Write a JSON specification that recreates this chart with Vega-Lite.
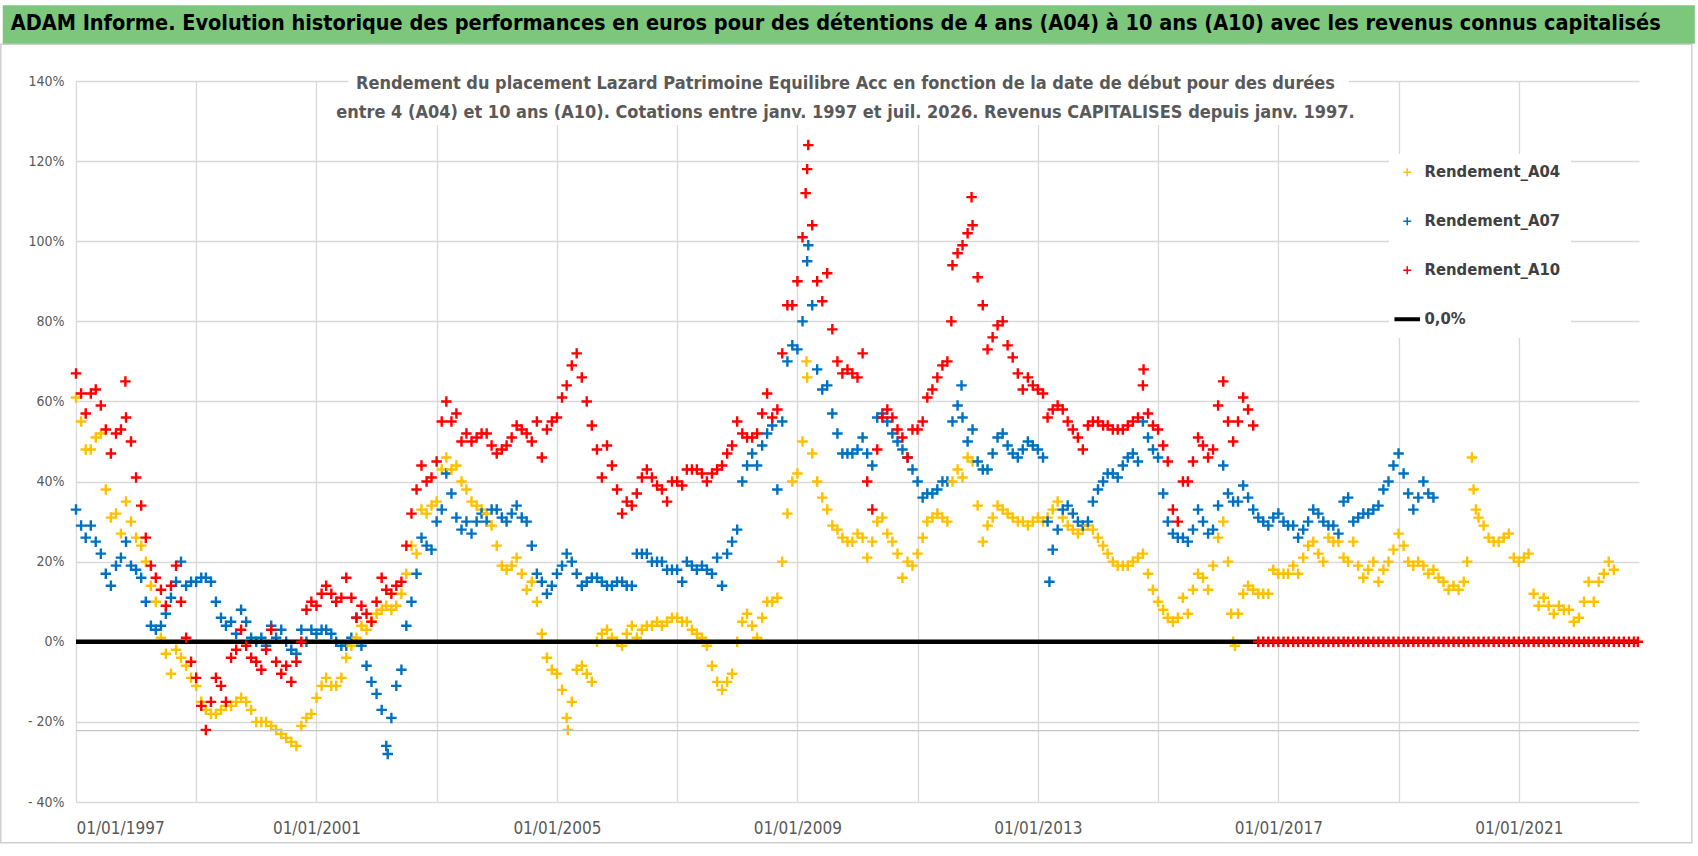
{
  "$schema": "https://vega.github.io/schema/vega-lite/v6.json",
  "background": "white",
  "autosize": {"type": "none"},
  "padding": {"left": 76, "top": 81, "right": 59, "bottom": 54},
  "width": 1563,
  "height": 721,
  "config": {
    "font": "Liberation Sans Narrow, DejaVu Sans Condensed, sans-serif",
    "view": {"stroke": null}
  },
  "title": {
    "text": [
      "Rendement du placement Lazard Patrimoine Equilibre Acc en fonction de la date de début pour des durées",
      "entre 4 (A04) et 10 ans (A10).  Cotations entre janv. 1997 et juil. 2026. Revenus CAPITALISES  depuis janv. 1997."
    ],
    "orient": "top", "anchor": "middle", "frame": "group",
    "offset": -117, "dx": -12,
    "fontSize": 18, "fontWeight": "bold", "color": "#595959", "lineHeight": 29
  },
  "data": {"values": [
    {"d":"1997-01-01","A04":61,"A07":33,"A10":67},
    {"d":"1997-02-01","A04":55,"A07":29,"A10":62},
    {"d":"1997-03-01","A04":48,"A07":26,"A10":57},
    {"d":"1997-04-01","A04":48,"A07":29,"A10":62},
    {"d":"1997-05-01","A04":51,"A07":25,"A10":63},
    {"d":"1997-06-01","A04":52,"A07":22,"A10":59},
    {"d":"1997-07-01","A04":38,"A07":17,"A10":53},
    {"d":"1997-08-01","A04":31,"A07":14,"A10":47},
    {"d":"1997-09-01","A04":32,"A07":19,"A10":52},
    {"d":"1997-10-01","A04":27,"A07":21,"A10":53},
    {"d":"1997-10-28","A10":65},
    {"d":"1997-11-01","A04":35,"A07":25,"A10":56},
    {"d":"1997-12-01","A04":30,"A07":19,"A10":50},
    {"d":"1998-01-01","A04":26,"A07":18,"A10":41},
    {"d":"1998-02-01","A04":24,"A07":16,"A10":34},
    {"d":"1998-03-01","A04":20,"A07":10,"A10":26},
    {"d":"1998-04-01","A04":14,"A07":4,"A10":19},
    {"d":"1998-05-01","A04":10,"A07":3,"A10":16},
    {"d":"1998-06-01","A04":1,"A07":4,"A10":13},
    {"d":"1998-07-01","A04":-3,"A07":7,"A10":9},
    {"d":"1998-08-01","A04":-8,"A07":11,"A10":14},
    {"d":"1998-09-01","A04":-2,"A07":15,"A10":19},
    {"d":"1998-10-01","A04":-4,"A07":20,"A10":10},
    {"d":"1998-11-01","A04":-6,"A07":14,"A10":1},
    {"d":"1998-12-01","A04":-9,"A07":15,"A10":-5},
    {"d":"1999-01-01","A04":-11,"A07":15,"A10":-9},
    {"d":"1999-02-01","A04":-15,"A07":16,"A10":-16},
    {"d":"1999-03-01","A04":-17,"A07":16,"A10":-22},
    {"d":"1999-04-01","A04":-18,"A07":15,"A10":-15},
    {"d":"1999-05-01","A04":-18,"A07":10,"A10":-9},
    {"d":"1999-06-01","A04":-17,"A07":6,"A10":-11},
    {"d":"1999-07-01","A04":-16,"A07":4,"A10":-15},
    {"d":"1999-08-01","A04":-16,"A07":5,"A10":-4},
    {"d":"1999-09-01","A04":-15,"A07":2,"A10":-2},
    {"d":"1999-10-01","A04":-14,"A07":8,"A10":3},
    {"d":"1999-11-01","A04":-15,"A07":5,"A10":-1},
    {"d":"1999-12-01","A04":-17,"A07":1,"A10":-4},
    {"d":"2000-01-01","A04":-20,"A07":0,"A10":-5},
    {"d":"2000-02-01","A04":-20,"A07":1,"A10":-7},
    {"d":"2000-03-01","A04":-20,"A07":-1,"A10":-2},
    {"d":"2000-04-01","A04":-21,"A07":4,"A10":3},
    {"d":"2000-05-01","A04":-22,"A07":1,"A10":-5},
    {"d":"2000-06-01","A04":-23,"A07":3,"A10":-8},
    {"d":"2000-07-01","A04":-24,"A07":0,"A10":-6},
    {"d":"2000-08-01","A04":-25,"A07":-2,"A10":-10},
    {"d":"2000-09-01","A04":-26,"A07":-3,"A10":-5},
    {"d":"2000-10-01","A04":-21,"A07":3,"A10":0},
    {"d":"2000-11-01","A04":-19,"A07":0,"A10":8},
    {"d":"2000-12-01","A04":-18,"A07":3,"A10":10},
    {"d":"2001-01-01","A04":-14,"A07":2,"A10":9},
    {"d":"2001-02-01","A04":-11,"A07":3,"A10":12},
    {"d":"2001-03-01","A04":-9,"A07":3,"A10":14},
    {"d":"2001-04-01","A04":-11,"A07":2,"A10":12},
    {"d":"2001-05-01","A04":-11,"A07":0,"A10":10},
    {"d":"2001-06-01","A04":-9,"A07":-1,"A10":11},
    {"d":"2001-07-01","A04":-4,"A07":-1,"A10":16},
    {"d":"2001-08-01","A04":-1,"A07":1,"A10":11},
    {"d":"2001-09-01","A04":1,"A07":6,"A10":6},
    {"d":"2001-10-01","A04":4,"A07":-1,"A10":9},
    {"d":"2001-11-01","A04":3,"A07":-6,"A10":7},
    {"d":"2001-12-01","A04":5,"A07":-10,"A10":5},
    {"d":"2002-01-01","A04":7,"A07":-13,"A10":10},
    {"d":"2002-02-01","A04":8,"A07":-17,"A10":16},
    {"d":"2002-03-01","A04":9,"A07":-26,"A10":13},
    {"d":"2002-03-10","A07":-28},
    {"d":"2002-04-01","A04":8,"A07":-19,"A10":12},
    {"d":"2002-05-01","A04":9,"A07":-11,"A10":14},
    {"d":"2002-06-01","A04":12,"A07":-7,"A10":15},
    {"d":"2002-07-01","A04":17,"A07":4,"A10":24},
    {"d":"2002-08-01","A04":24,"A07":10,"A10":32},
    {"d":"2002-09-01","A04":22,"A07":17,"A10":38},
    {"d":"2002-10-01","A04":33,"A07":26,"A10":44},
    {"d":"2002-11-01","A04":32,"A07":24,"A10":40},
    {"d":"2002-12-01","A04":34,"A07":23,"A10":41},
    {"d":"2003-01-01","A04":35,"A07":30,"A10":45},
    {"d":"2003-02-01","A04":43,"A07":33,"A10":55},
    {"d":"2003-03-01","A04":46,"A07":42,"A10":60},
    {"d":"2003-04-01","A04":43,"A07":37,"A10":55},
    {"d":"2003-05-01","A04":44,"A07":31,"A10":57},
    {"d":"2003-06-01","A04":40,"A07":28,"A10":50},
    {"d":"2003-07-01","A04":38,"A07":30,"A10":52},
    {"d":"2003-08-01","A04":35,"A07":27,"A10":50},
    {"d":"2003-09-01","A04":34,"A07":30,"A10":51},
    {"d":"2003-10-01","A04":33,"A07":32,"A10":52},
    {"d":"2003-11-01","A04":32,"A07":30,"A10":52},
    {"d":"2003-12-01","A04":29,"A07":33,"A10":49},
    {"d":"2004-01-01","A04":24,"A07":33,"A10":47},
    {"d":"2004-02-01","A04":19,"A07":31,"A10":48},
    {"d":"2004-03-01","A04":18,"A07":30,"A10":49},
    {"d":"2004-04-01","A04":19,"A07":32,"A10":51},
    {"d":"2004-05-01","A04":21,"A07":34,"A10":54},
    {"d":"2004-06-01","A04":17,"A07":31,"A10":53},
    {"d":"2004-07-01","A04":13,"A07":30,"A10":52},
    {"d":"2004-08-01","A04":15,"A07":24,"A10":50},
    {"d":"2004-09-01","A04":10,"A07":17,"A10":55},
    {"d":"2004-10-01","A04":2,"A07":15,"A10":46},
    {"d":"2004-11-01","A04":-4,"A07":12,"A10":53},
    {"d":"2004-12-01","A04":-7,"A07":14,"A10":55},
    {"d":"2005-01-01","A04":-8,"A07":17,"A10":56},
    {"d":"2005-02-01","A04":-12,"A07":19,"A10":61},
    {"d":"2005-03-01","A04":-19,"A07":22,"A10":64},
    {"d":"2005-03-08","A04":-22},
    {"d":"2005-04-01","A04":-15,"A07":20,"A10":69},
    {"d":"2005-05-01","A04":-7,"A07":17,"A10":72},
    {"d":"2005-06-01","A04":-6,"A07":14,"A10":66},
    {"d":"2005-07-01","A04":-8,"A07":15,"A10":60},
    {"d":"2005-08-01","A04":-10,"A07":16,"A10":54},
    {"d":"2005-09-01","A04":0,"A07":16,"A10":48},
    {"d":"2005-10-01","A04":2,"A07":15,"A10":41},
    {"d":"2005-11-01","A04":3,"A07":14,"A10":49},
    {"d":"2005-12-01","A04":1,"A07":14,"A10":44},
    {"d":"2006-01-01","A04":0,"A07":15,"A10":38},
    {"d":"2006-02-01","A04":-1,"A07":15,"A10":32},
    {"d":"2006-03-01","A04":2,"A07":14,"A10":35},
    {"d":"2006-04-01","A04":4,"A07":14,"A10":34},
    {"d":"2006-05-01","A04":1,"A07":22,"A10":37},
    {"d":"2006-06-01","A04":3,"A07":22,"A10":41},
    {"d":"2006-07-01","A04":4,"A07":22,"A10":43},
    {"d":"2006-08-01","A04":4,"A07":20,"A10":41},
    {"d":"2006-09-01","A04":5,"A07":20,"A10":39},
    {"d":"2006-10-01","A04":4,"A07":20,"A10":38},
    {"d":"2006-11-01","A04":5,"A07":18,"A10":35},
    {"d":"2006-12-01","A04":6,"A07":18,"A10":40},
    {"d":"2007-01-01","A04":6,"A07":18,"A10":40},
    {"d":"2007-02-01","A04":5,"A07":15,"A10":39},
    {"d":"2007-03-01","A04":5,"A07":20,"A10":43},
    {"d":"2007-04-01","A04":3,"A07":19,"A10":43},
    {"d":"2007-05-01","A04":2,"A07":18,"A10":43},
    {"d":"2007-06-01","A04":1,"A07":19,"A10":42},
    {"d":"2007-07-01","A04":-1,"A07":18,"A10":40},
    {"d":"2007-08-01","A04":-6,"A07":17,"A10":42},
    {"d":"2007-09-01","A04":-10,"A07":21,"A10":43},
    {"d":"2007-10-01","A04":-12,"A07":14,"A10":44},
    {"d":"2007-11-01","A04":-10,"A07":22,"A10":47},
    {"d":"2007-12-01","A04":-8,"A07":25,"A10":49},
    {"d":"2008-01-01","A04":0,"A07":28,"A10":55},
    {"d":"2008-02-01","A04":5,"A07":40,"A10":52},
    {"d":"2008-03-01","A04":7,"A07":44,"A10":51},
    {"d":"2008-04-01","A04":4,"A07":47,"A10":51},
    {"d":"2008-05-01","A04":1,"A07":44,"A10":52},
    {"d":"2008-06-01","A04":6,"A07":49,"A10":57},
    {"d":"2008-07-01","A04":10,"A07":52,"A10":62},
    {"d":"2008-08-01","A04":10,"A07":54,"A10":56},
    {"d":"2008-09-01","A04":11,"A07":38,"A10":58},
    {"d":"2008-10-01","A04":20,"A07":55,"A10":72},
    {"d":"2008-11-01","A04":32,"A07":70,"A10":84},
    {"d":"2008-12-01","A04":40,"A07":74,"A10":84},
    {"d":"2009-01-01","A04":42,"A07":73,"A10":90},
    {"d":"2009-02-01","A04":50,"A07":80,"A10":101},
    {"d":"2009-02-20","A10":112},
    {"d":"2009-02-25","A04":70},
    {"d":"2009-03-01","A04":66,"A07":95,"A10":118},
    {"d":"2009-03-08","A07":99,"A10":124},
    {"d":"2009-04-01","A04":47,"A07":84,"A10":104},
    {"d":"2009-05-01","A04":40,"A07":68,"A10":90},
    {"d":"2009-06-01","A04":36,"A07":63,"A10":85},
    {"d":"2009-07-01","A04":33,"A07":64,"A10":92},
    {"d":"2009-08-01","A04":29,"A07":57,"A10":78},
    {"d":"2009-09-01","A04":28,"A07":52,"A10":70},
    {"d":"2009-10-01","A04":26,"A07":47,"A10":67},
    {"d":"2009-11-01","A04":25,"A07":47,"A10":68},
    {"d":"2009-12-01","A04":25,"A07":47,"A10":67},
    {"d":"2010-01-01","A04":27,"A07":48,"A10":66},
    {"d":"2010-02-01","A04":26,"A07":51,"A10":72},
    {"d":"2010-03-01","A04":21,"A07":47,"A10":40},
    {"d":"2010-04-01","A04":25,"A07":44,"A10":33},
    {"d":"2010-05-01","A04":30,"A07":56,"A10":48},
    {"d":"2010-06-01","A04":31,"A07":57,"A10":56},
    {"d":"2010-07-01","A04":27,"A07":55,"A10":58},
    {"d":"2010-08-01","A04":25,"A07":52,"A10":56},
    {"d":"2010-09-01","A04":22,"A07":50,"A10":53},
    {"d":"2010-10-01","A04":16,"A07":48,"A10":51},
    {"d":"2010-11-01","A04":20,"A07":46,"A10":46},
    {"d":"2010-12-01","A04":19,"A07":43,"A10":53},
    {"d":"2011-01-01","A04":22,"A07":40,"A10":53},
    {"d":"2011-02-01","A04":26,"A07":36,"A10":55},
    {"d":"2011-03-01","A04":30,"A07":37,"A10":61},
    {"d":"2011-04-01","A04":31,"A07":37,"A10":63},
    {"d":"2011-05-01","A04":32,"A07":38,"A10":66},
    {"d":"2011-06-01","A04":31,"A07":40,"A10":69},
    {"d":"2011-07-01","A04":30,"A07":40,"A10":70},
    {"d":"2011-07-25","A10":80},
    {"d":"2011-08-01","A04":40,"A07":55,"A10":94},
    {"d":"2011-09-01","A04":43,"A07":59,"A10":97},
    {"d":"2011-09-25","A07":64},
    {"d":"2011-10-01","A04":41,"A07":56,"A10":99},
    {"d":"2011-11-01","A04":46,"A07":50,"A10":102},
    {"d":"2011-11-25","A10":111},
    {"d":"2011-12-01","A04":45,"A07":53,"A10":104},
    {"d":"2012-01-01","A04":34,"A07":45,"A10":91},
    {"d":"2012-02-01","A04":25,"A07":43,"A10":84},
    {"d":"2012-03-01","A04":29,"A07":43,"A10":73},
    {"d":"2012-04-01","A04":31,"A07":47,"A10":76},
    {"d":"2012-05-01","A04":34,"A07":51,"A10":79},
    {"d":"2012-06-01","A04":33,"A07":52,"A10":80},
    {"d":"2012-07-01","A04":32,"A07":49,"A10":74},
    {"d":"2012-08-01","A04":31,"A07":47,"A10":71},
    {"d":"2012-09-01","A04":30,"A07":46,"A10":67},
    {"d":"2012-10-01","A04":30,"A07":48,"A10":63},
    {"d":"2012-11-01","A04":29,"A07":50,"A10":66},
    {"d":"2012-12-01","A04":30,"A07":49,"A10":64},
    {"d":"2013-01-01","A04":31,"A07":48,"A10":63},
    {"d":"2013-02-01","A04":30,"A07":46,"A10":62},
    {"d":"2013-03-01","A04":31,"A07":30,"A10":56},
    {"d":"2013-03-12","A07":15},
    {"d":"2013-04-01","A04":33,"A07":23,"A10":58},
    {"d":"2013-05-01","A04":35,"A07":28,"A10":59},
    {"d":"2013-06-01","A04":31,"A07":33,"A10":58},
    {"d":"2013-07-01","A04":29,"A07":34,"A10":55},
    {"d":"2013-08-01","A04":28,"A07":32,"A10":53},
    {"d":"2013-09-01","A04":27,"A07":30,"A10":51},
    {"d":"2013-10-01","A04":28,"A07":29,"A10":48},
    {"d":"2013-11-01","A04":29,"A07":30,"A10":54},
    {"d":"2013-12-01","A04":28,"A07":35,"A10":55},
    {"d":"2014-01-01","A04":26,"A07":38,"A10":55},
    {"d":"2014-02-01","A04":24,"A07":40,"A10":54},
    {"d":"2014-03-01","A04":22,"A07":42,"A10":54},
    {"d":"2014-04-01","A04":20,"A07":42,"A10":53},
    {"d":"2014-05-01","A04":19,"A07":41,"A10":53},
    {"d":"2014-06-01","A04":19,"A07":44,"A10":53},
    {"d":"2014-07-01","A04":19,"A07":46,"A10":54},
    {"d":"2014-08-01","A04":20,"A07":47,"A10":55},
    {"d":"2014-09-01","A04":21,"A07":45,"A10":56},
    {"d":"2014-10-01","A04":22,"A07":55,"A10":64},
    {"d":"2014-10-05","A10":68},
    {"d":"2014-11-01","A04":17,"A07":51,"A10":57},
    {"d":"2014-12-01","A04":13,"A07":48,"A10":54},
    {"d":"2015-01-01","A04":10,"A07":46,"A10":53},
    {"d":"2015-02-01","A04":8,"A07":37,"A10":49},
    {"d":"2015-03-01","A04":6,"A07":30,"A10":45},
    {"d":"2015-04-01","A04":5,"A07":27,"A10":33},
    {"d":"2015-05-01","A04":6,"A07":26,"A10":30},
    {"d":"2015-06-01","A04":11,"A07":26,"A10":40},
    {"d":"2015-07-01","A04":7,"A07":25,"A10":40},
    {"d":"2015-08-01","A04":13,"A07":28,"A10":45},
    {"d":"2015-09-01","A04":17,"A07":33,"A10":51},
    {"d":"2015-10-01","A04":16,"A07":30,"A10":49},
    {"d":"2015-11-01","A04":13,"A07":27,"A10":46},
    {"d":"2015-12-01","A04":19,"A07":28,"A10":48},
    {"d":"2016-01-01","A04":26,"A07":34,"A10":59},
    {"d":"2016-02-01","A04":30,"A07":44,"A10":65},
    {"d":"2016-03-01","A04":20,"A07":37,"A10":55},
    {"d":"2016-03-20","A04":7},
    {"d":"2016-04-01","A04":0,"A07":35,"A10":50},
    {"d":"2016-04-12","A04":-1},
    {"d":"2016-05-01","A04":7,"A07":35,"A10":55},
    {"d":"2016-06-01","A04":12,"A07":39,"A10":61},
    {"d":"2016-07-01","A04":14,"A07":36,"A10":58},
    {"d":"2016-08-01","A04":13,"A07":33,"A10":54},
    {"d":"2016-09-01","A04":12,"A07":31,"A10":0},
    {"d":"2016-10-01","A04":12,"A07":30,"A10":0},
    {"d":"2016-11-01","A04":12,"A07":29,"A10":0},
    {"d":"2016-12-01","A04":18,"A07":31,"A10":0},
    {"d":"2017-01-01","A04":17,"A07":32,"A10":0},
    {"d":"2017-02-01","A04":17,"A07":30,"A10":0},
    {"d":"2017-03-01","A04":17,"A07":29,"A10":0},
    {"d":"2017-04-01","A04":19,"A07":29,"A10":0},
    {"d":"2017-05-01","A04":17,"A07":26,"A10":0},
    {"d":"2017-06-01","A04":21,"A07":28,"A10":0},
    {"d":"2017-07-01","A04":24,"A07":30,"A10":0},
    {"d":"2017-08-01","A04":25,"A07":33,"A10":0},
    {"d":"2017-09-01","A04":22,"A07":32,"A10":0},
    {"d":"2017-10-01","A04":20,"A07":30,"A10":0},
    {"d":"2017-11-01","A04":26,"A07":29,"A10":0},
    {"d":"2017-12-01","A04":25,"A07":29,"A10":0},
    {"d":"2018-01-01","A04":25,"A07":27,"A10":0},
    {"d":"2018-02-01","A04":21,"A07":35,"A10":0},
    {"d":"2018-03-01","A04":20,"A07":36,"A10":0},
    {"d":"2018-04-01","A04":25,"A07":30,"A10":0},
    {"d":"2018-05-01","A04":19,"A07":31,"A10":0},
    {"d":"2018-06-01","A04":16,"A07":32,"A10":0},
    {"d":"2018-07-01","A04":18,"A07":32,"A10":0},
    {"d":"2018-08-01","A04":20,"A07":33,"A10":0},
    {"d":"2018-09-01","A04":15,"A07":34,"A10":0},
    {"d":"2018-10-01","A04":18,"A07":38,"A10":0},
    {"d":"2018-11-01","A04":20,"A07":40,"A10":0},
    {"d":"2018-12-01","A04":23,"A07":44,"A10":0},
    {"d":"2019-01-01","A04":27,"A07":47,"A10":0},
    {"d":"2019-02-01","A04":24,"A07":42,"A10":0},
    {"d":"2019-03-01","A04":20,"A07":37,"A10":0},
    {"d":"2019-04-01","A04":19,"A07":33,"A10":0},
    {"d":"2019-05-01","A04":20,"A07":36,"A10":0},
    {"d":"2019-06-01","A04":19,"A07":40,"A10":0},
    {"d":"2019-07-01","A04":17,"A07":37,"A10":0},
    {"d":"2019-08-01","A04":18,"A07":36,"A10":0},
    {"d":"2019-09-01","A04":16,"A10":0},
    {"d":"2019-10-01","A04":15,"A10":0},
    {"d":"2019-11-01","A04":13,"A10":0},
    {"d":"2019-12-01","A04":14,"A10":0},
    {"d":"2020-01-01","A04":13,"A10":0},
    {"d":"2020-02-01","A04":15,"A10":0},
    {"d":"2020-02-22","A04":20},
    {"d":"2020-03-01","A10":0},
    {"d":"2020-03-22","A04":46},
    {"d":"2020-04-01","A04":38,"A10":0},
    {"d":"2020-04-15","A04":33},
    {"d":"2020-05-01","A04":31,"A10":0},
    {"d":"2020-06-01","A04":29,"A10":0},
    {"d":"2020-07-01","A04":26,"A10":0},
    {"d":"2020-08-01","A04":25,"A10":0},
    {"d":"2020-09-01","A04":25,"A10":0},
    {"d":"2020-10-01","A04":26,"A10":0},
    {"d":"2020-11-01","A04":27,"A10":0},
    {"d":"2020-12-01","A04":21,"A10":0},
    {"d":"2021-01-01","A04":20,"A10":0},
    {"d":"2021-02-01","A04":21,"A10":0},
    {"d":"2021-03-01","A04":22,"A10":0},
    {"d":"2021-04-01","A04":12,"A10":0},
    {"d":"2021-05-01","A04":9,"A10":0},
    {"d":"2021-06-01","A04":11,"A10":0},
    {"d":"2021-07-01","A04":9,"A10":0},
    {"d":"2021-08-01","A04":7,"A10":0},
    {"d":"2021-09-01","A04":9,"A10":0},
    {"d":"2021-10-01","A04":8,"A10":0},
    {"d":"2021-11-01","A04":8,"A10":0},
    {"d":"2021-12-01","A04":5,"A10":0},
    {"d":"2022-01-01","A04":6,"A10":0},
    {"d":"2022-02-01","A04":10,"A10":0},
    {"d":"2022-03-01","A04":15,"A10":0},
    {"d":"2022-04-01","A04":10,"A10":0},
    {"d":"2022-05-01","A04":15,"A10":0},
    {"d":"2022-06-01","A04":17,"A10":0},
    {"d":"2022-07-01","A04":20,"A10":0},
    {"d":"2022-08-01","A04":18,"A10":0},
    {"d":"2022-09-01","A10":0},
    {"d":"2022-10-01","A10":0},
    {"d":"2022-11-01","A10":0},
    {"d":"2022-12-01","A10":0},
    {"d":"2022-12-25","A10":0}
  ]},
  "transform": [
    {"fold": ["A04", "A07", "A10"], "as": ["s", "v"]},
    {"filter": "isValid(datum.v)"}
  ],
  "layer": [
    {
      "data": {"values": [{}]},
      "mark": {"type": "rect", "fill": null, "stroke": "#d0d0d0", "strokeWidth": 1.5},
      "encoding": {
        "x": {"datum": {"year": 1995, "month": 10, "date": 2, "utc": true}, "type": "temporal"},
        "x2": {"datum": {"year": 2023, "month": 11, "date": 18, "utc": true}},
        "y": {"datum": 149.2, "type": "quantitative"},
        "y2": {"datum": -50.2}
      }
    },
    {
      "data": {"values": [{}]},
      "mark": {"type": "rect", "color": "#7cc77b"},
      "encoding": {
        "x": {"datum": {"year": 1995, "month": 10, "date": 14, "utc": true}, "type": "temporal"},
        "x2": {"datum": {"year": 2023, "month": 12, "date": 6, "utc": true}},
        "y": {"datum": 158.9, "type": "quantitative"},
        "y2": {"datum": 149.3}
      }
    },
    {
      "data": {"values": [{}]},
      "mark": {"type": "rect", "color": "#ffffff"},
      "encoding": {
        "x": {"datum": {"year": 2001, "month": 7, "date": 15, "utc": true}, "type": "temporal"},
        "x2": {"datum": {"year": 2018, "month": 3, "date": 5, "utc": true}},
        "y": {"datum": 142.7, "type": "quantitative"},
        "y2": {"datum": 129}
      }
    },
    {
      "data": {"values": [{}]},
      "mark": {"type": "text", "align": "left", "baseline": "middle", "fontSize": 21.5, "fontWeight": "bold", "color": "#000000"},
      "encoding": {
        "x": {"datum": {"year": 1995, "month": 12, "date": 1, "utc": true}, "type": "temporal"},
        "y": {"datum": 154.2, "type": "quantitative"},
        "text": {"value": "ADAM Informe. Evolution historique des performances en euros pour des détentions de 4 ans (A04) à 10 ans (A10) avec les revenus connus capitalisés"}
      }
    },
    {
      "transform": [{"filter": "datum.s != 'A10'"}],
      "mark": {"type": "point", "filled": false, "strokeWidth": 2.4, "size": 110, "opacity": 1},
      "encoding": {
        "x": {
          "field": "d", "type": "temporal",
          "scale": {"type": "utc", "domain": [{"year": 1997, "month": 1, "date": 1, "utc": true}, {"year": 2023, "month": 1, "date": 1, "utc": true}]},
          "axis": {
            "title": null, "format": "%d/%m/%Y",
            "values": [
              {"year": 1997, "month": 1, "date": 1, "utc": true},
              {"year": 1999, "month": 1, "date": 1, "utc": true},
              {"year": 2001, "month": 1, "date": 1, "utc": true},
              {"year": 2003, "month": 1, "date": 1, "utc": true},
              {"year": 2005, "month": 1, "date": 1, "utc": true},
              {"year": 2007, "month": 1, "date": 1, "utc": true},
              {"year": 2009, "month": 1, "date": 1, "utc": true},
              {"year": 2011, "month": 1, "date": 1, "utc": true},
              {"year": 2013, "month": 1, "date": 1, "utc": true},
              {"year": 2015, "month": 1, "date": 1, "utc": true},
              {"year": 2017, "month": 1, "date": 1, "utc": true},
              {"year": 2019, "month": 1, "date": 1, "utc": true},
              {"year": 2021, "month": 1, "date": 1, "utc": true}
            ],
            "grid": true, "gridColor": "#d9d9d9", "gridWidth": 1.3,
            "domain": false, "ticks": false,
            "labelFontSize": 17, "labelColor": "#595959", "labelPadding": 18
          }
        },
        "y": {
          "field": "v", "type": "quantitative",
          "scale": {"domain": [-40, 140], "nice": false, "zero": false},
          "axis": {
            "title": null,
            "values": [-40, -20, 0, 20, 40, 60, 80, 100, 120, 140],
            "labelExpr": "datum.value < 0 ? '- ' + abs(datum.value) + '%' : datum.value + '%'",
            "grid": true, "gridColor": "#d9d9d9", "gridWidth": 1.3,
            "domain": false, "ticks": false,
            "labelFontSize": 14, "labelColor": "#595959", "labelPadding": 12
          }
        },
        "color": {
          "field": "s", "type": "nominal",
          "scale": {"domain": ["A04", "A07", "A10", "0,0%"], "range": ["#ffc000", "#0070c0", "#ff0000", "#000000"]},
          "legend": {
            "title": null, "orient": "none", "legendX": 1313, "legendY": 73,
            "labelExpr": "(datum.label == '0,0%' ? '0,0%' : 'Rendement_' + datum.label) + '                  '",
            "labelFontSize": 16.5, "labelFontWeight": "bold", "labelColor": "#404040",
            "labelOffset": 9, "labelLimit": 400,
            "rowPadding": 32, "padding": 10, "fillColor": "white",
            "symbolSize": 64, "symbolStrokeWidth": 1.5
          }
        },
        "shape": {
          "field": "s", "type": "nominal",
          "scale": {"domain": ["A04", "A07", "A10", "0,0%"], "range": ["M-1,0H1M0,-1V1", "M-1,0H1M0,-1V1", "M-1,0H1M0,-1V1", "M-3.2,-0.3H3.2M-3.2,0H3.2M-3.2,0.3H3.2"]}
        }
      }
    },
    {
      "data": {"values": [{}]},
      "mark": {"type": "rule", "color": "#c4c4c4", "strokeWidth": 1.3},
      "encoding": {"y": {"datum": -22.2}}
    },
    {
      "data": {"values": [{}]},
      "mark": {"type": "rule", "color": "#000000", "strokeWidth": 4.5},
      "encoding": {"y": {"datum": 0}}
    },
    {
      "transform": [{"filter": "datum.s == 'A10'"}],
      "mark": {"type": "point", "filled": false, "strokeWidth": 2.4, "size": 110, "opacity": 1},
      "encoding": {
        "x": {"field": "d", "type": "temporal"},
        "y": {"field": "v", "type": "quantitative"},
        "color": {"field": "s", "type": "nominal", "legend": null},
        "shape": {"field": "s", "type": "nominal", "legend": null}
      }
    }
  ]
}
